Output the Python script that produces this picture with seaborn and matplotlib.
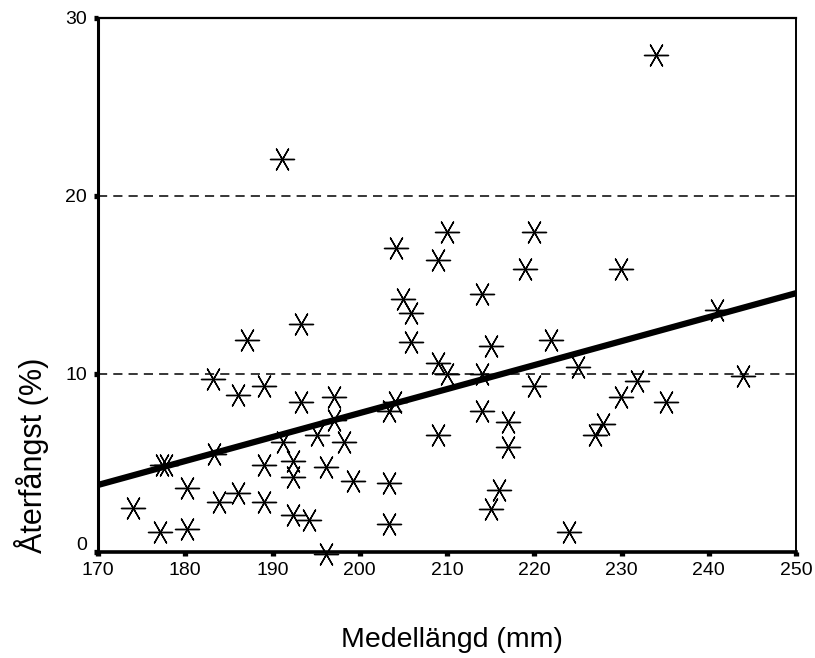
import matplotlib
matplotlib.use("Agg")
import matplotlib.pyplot as plt
import seaborn as sns
import numpy as np
import pandas as pd
from matplotlib.transforms import ScaledTranslation

# Data
medellangd = [174.0, 177.3, 177.8, 177.1, 180.2, 180.2, 183.2, 183.3, 183.9, 186.0,
              186.0, 187.1, 189.0, 189.0, 189.0, 191.1, 191.2, 192.3, 192.3, 192.3,
              193.3, 193.3, 194.2, 195.1, 196.1, 196.1, 197.0, 197.1, 198.2, 199.2,
              203.3, 204.0, 203.3, 203.3, 204.2, 204.9, 205.9, 205.9, 209.0, 209.0,
              210.0, 209.0, 210.0, 214.0, 214.0, 214.0, 215.1, 215.1, 216.0, 217.0,
              217.0, 218.9, 220.0, 220.0, 221.9, 224.0, 225.0, 227.0, 227.9, 229.9,
              229.9, 231.8, 234.0, 235.1, 240.9, 243.9]
aterfangst = [2.5, 4.9, 4.9, 1.1, 3.6, 1.3, 9.7, 5.5, 2.8, 8.8,
              3.3, 11.9, 9.3, 4.9, 2.8, 22.1, 6.2, 5.1, 4.2, 2.1,
              12.8, 8.4, 1.8, 6.6, 4.8, -0.1, 8.7, 7.4, 6.2, 4.0,
              7.9, 8.4, 3.9, 1.6, 17.1, 14.2, 13.4, 11.8, 16.4, 10.6,
              10.0, 6.6, 18.0, 14.5, 10.0, 7.9, 11.6, 2.4, 3.5, 7.3,
              5.9, 15.9, 18.0, 9.3, 11.9, 1.15, 10.4, 6.6, 7.2, 15.9,
              8.7, 9.6, 27.9, 8.4, 13.6, 9.9]
x_ticks = [170, 180, 190, 200, 210, 220, 230, 240, 250]
y_ticks = [0, 10, 20, 30]

df = pd.DataFrame({"Medellängd (mm)": medellangd, "Återfångst (%)": aterfangst})

sns.set_theme(style="white")
plt.rcParams["font.family"] = ["Liberation Sans", "DejaVu Sans"]

fig = plt.figure(figsize=(8.15, 6.58), dpi=100)
ax = fig.add_axes([98/815, 1-552/658, 698/815, 534/658])

ax.set_xlim(170, 250)
ax.set_ylim(0, 30)

# dashed horizontal grid lines
for yv in [10, 20, 30]:
    ax.axhline(yv, color="black", lw=1.1, ls=(0, (6, 4)), zorder=1)

sns.regplot(data=df, x="Medellängd (mm)", y="Återfångst (%)", ax=ax, ci=None,
            truncate=False, marker=(6, 2, 90),
            scatter_kws=dict(s=300, linewidths=1.0, alpha=1.0,
                             color="black", clip_on=False, zorder=3),
            line_kws=dict(color="black", lw=4.5, zorder=4))

ax.set_xticks(x_ticks)
ax.set_yticks(y_ticks)
ax.set_xticklabels([str(v) for v in x_ticks])
ax.set_yticklabels([str(v) for v in y_ticks])
ax.tick_params(axis="both", direction="out", length=3, width=3.8, color="black",
               labelsize=14, labelcolor="black")
ax.tick_params(axis="x", pad=4)
ax.tick_params(axis="y", pad=5)
ax.tick_params(axis="both", which="both", bottom=True, left=True, top=False, right=False)

# shift the "0" label up as in reference
lbl0 = ax.get_yticklabels()[0]
lbl0.set_transform(lbl0.get_transform() + ScaledTranslation(0, 9/100, fig.dpi_scale_trans))

for side, lw in [("left", 2.2), ("bottom", 2.6), ("top", 1.6), ("right", 1.4)]:
    ax.spines[side].set_visible(True)
    ax.spines[side].set_color("black")
    ax.spines[side].set_linewidth(lw)

ax.set_xlabel("Medellängd (mm)", fontsize=20.5, va="center", color="black")
ax.set_ylabel("Återfångst (%)", fontsize=22, va="center", ha="center", color="black")
ax.xaxis.set_label_coords((452-98)/698, (552-640)/534)
ax.yaxis.set_label_coords((32-98)/698, (552-455)/534)

fig.savefig("out.png", dpi=100, facecolor="white")
